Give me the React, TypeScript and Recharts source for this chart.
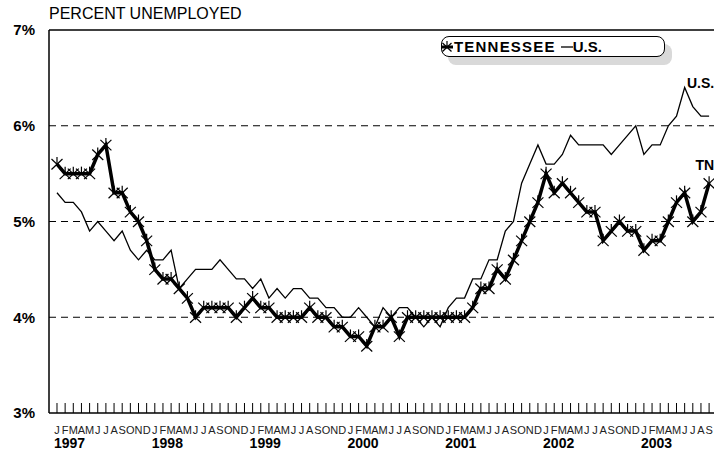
import { Line, LineChart, ReferenceDot, ReferenceLine, XAxis, YAxis } from "recharts"

const FONT = '"Liberation Sans", Arial, Helvetica, sans-serif'

// month letters and years for the axis
const MONTHS = ["J", "F", "M", "A", "M", "J", "J", "A", "S", "O", "N", "D"]
const YEARS = ["1997", "1998", "1999", "2000", "2001", "2002", "2003"]

// Tennessee, Jan 1997 - Sep 2003
const TENNESSEE = [
  5.6, 5.5, 5.5, 5.5, 5.5, 5.7, 5.8, 5.3, 5.3, 5.1, 5.0, 4.8,
  4.5, 4.4, 4.4, 4.3, 4.2, 4.0, 4.1, 4.1, 4.1, 4.1, 4.0, 4.1,
  4.2, 4.1, 4.1, 4.0, 4.0, 4.0, 4.0, 4.1, 4.0, 4.0, 3.9, 3.9,
  3.8, 3.8, 3.7, 3.9, 3.9, 4.0, 3.8, 4.0, 4.0, 4.0, 4.0, 4.0,
  4.0, 4.0, 4.0, 4.1, 4.3, 4.3, 4.5, 4.4, 4.6, 4.8, 5.0, 5.2,
  5.5, 5.3, 5.4, 5.3, 5.2, 5.1, 5.1, 4.8, 4.9, 5.0, 4.9, 4.9,
  4.7, 4.8, 4.8, 5.0, 5.2, 5.3, 5.0, 5.1, 5.4,
]

// U.S.
const US = [
  5.3, 5.2, 5.2, 5.1, 4.9, 5.0, 4.9, 4.8, 4.9, 4.7, 4.6, 4.7,
  4.6, 4.6, 4.7, 4.3, 4.4, 4.5, 4.5, 4.5, 4.6, 4.5, 4.4, 4.4,
  4.3, 4.4, 4.2, 4.3, 4.2, 4.3, 4.3, 4.2, 4.2, 4.1, 4.1, 4.0,
  4.0, 4.1, 4.0, 3.9, 4.1, 4.0, 4.1, 4.1, 4.0, 3.9, 4.0, 3.9,
  4.1, 4.2, 4.2, 4.4, 4.4, 4.6, 4.6, 4.9, 5.0, 5.4, 5.6, 5.8,
  5.6, 5.6, 5.7, 5.9, 5.8, 5.8, 5.8, 5.8, 5.7, 5.8, 5.9, 6.0,
  5.7, 5.8, 5.8, 6.0, 6.1, 6.4, 6.2, 6.1, 6.1,
]

const Y_TICKS = [3, 4, 5, 6, 7]
const GRID = [4, 5, 6]

const data = TENNESSEE.map((tn, i) => ({
  i,
  month: MONTHS[i % 12],
  year: i % 12 === 0 ? YEARS[i / 12] : "",
  tn,
  us: US[i],
}))
const xTicks = data.map((d) => d.i)

const StarDot = (props: any) => {
  const { cx, cy } = props
  if (cx == null || cy == null) return null
  return (
    <g stroke="#000" strokeWidth={1.2} fill="none">
      <line x1={cx} y1={cy - 7} x2={cx} y2={cy} />
      <line x1={cx - 5.5} y1={cy - 5} x2={cx + 5.5} y2={cy + 5.5} />
      <line x1={cx - 5.5} y1={cy + 5.5} x2={cx + 5.5} y2={cy - 5} />
    </g>
  )
}

const MonthTick = (props: any) => {
  const { x, y, payload } = props
  const d = data[payload.value]
  if (!d) return null
  return (
    <g>
      <line x1={x} y1={y - 10} x2={x} y2={y} stroke="#000" strokeWidth={1} />
      <text x={x} y={y + 21} textAnchor="middle" fontSize={11} fill="#222" fontFamily={FONT}>
        {d.month}
      </text>
      {d.year && (
        <text x={x - 3} y={y + 35} textAnchor="start" fontSize={14} fontWeight="bold" fill="#000" fontFamily={FONT}>
          {d.year}
        </text>
      )}
    </g>
  )
}

const endLabel = (text: string) => (p: any) => {
  const { viewBox } = p
  return (
    <text
      x={viewBox.x + viewBox.width}
      y={viewBox.y + viewBox.height / 2}
      textAnchor="end"
      dominantBaseline="central"
      fontSize={14}
      fontWeight="bold"
      fontFamily={FONT}
      fill="#000"
    >
      {text}
    </text>
  )
}

export default function App() {
  return (
    <div style={{ position: "absolute", left: 0, top: 0, width: 714, height: 453, background: "#fff", fontFamily: FONT }}>
      <div style={{ position: "absolute", left: 49, top: 5, fontSize: 16, color: "#000", whiteSpace: "nowrap" }}>
        PERCENT UNEMPLOYED
      </div>
      <LineChart width={714} height={453} data={data} margin={{ top: 30, right: 0, bottom: 0, left: 0 }}>
        <XAxis
          dataKey="i"
          type="number"
          domain={[-0.98, 80.6]}
          ticks={xTicks}
          interval={0}
          allowDataOverflow
          height={40}
          tickSize={0}
          tickMargin={0}
          tickLine={false}
          axisLine={{ stroke: "#000", strokeWidth: 1.5 }}
          tick={<MonthTick />}
        />
        <YAxis
          type="number"
          domain={[3, 7]}
          ticks={Y_TICKS}
          width={49}
          tickSize={0}
          tickMargin={14}
          tickLine={false}
          axisLine={{ stroke: "#000", strokeWidth: 1.5 }}
          tickFormatter={(v) => `${v}%`}
          tick={{ fill: "#000", fontSize: 15, fontWeight: "bold", fontFamily: FONT }}
        />
        {GRID.map((g) => (
          <ReferenceLine key={g} y={g} stroke="#000" strokeWidth={1} strokeDasharray="7 5" />
        ))}
        <ReferenceLine y={7} stroke="#000" strokeWidth={1.5} />
        <Line
          dataKey="us"
          type="linear"
          stroke="#000"
          strokeWidth={1.3}
          dot={false}
          activeDot={false}
          isAnimationActive={false}
        />
        <Line
          dataKey="tn"
          type="linear"
          stroke="#000"
          strokeWidth={3.5}
          dot={<StarDot />}
          activeDot={false}
          isAnimationActive={false}
        />
        <ReferenceDot x={80.5} y={6.45} r={1} fill="none" stroke="none" ifOverflow="visible" label={endLabel("U.S.")} />
        <ReferenceDot x={80.5} y={5.59} r={1} fill="none" stroke="none" ifOverflow="visible" label={endLabel("TN")} />
      </LineChart>
      <div
        style={{
          position: "absolute",
          left: 441,
          top: 36,
          width: 224,
          height: 21,
          boxSizing: "border-box",
          border: "1.5px solid #000",
          borderRadius: 8,
          background: "#fff",
          boxShadow: "7px 8px 0 #d9d9d9",
          display: "flex",
          alignItems: "center",
          fontWeight: "bold",
          fontSize: 15,
          color: "#000",
          whiteSpace: "nowrap",
        }}
      >
        <svg width={12} height={14} style={{ marginLeft: -1 }}>
          <line x1={0} y1={7} x2={12} y2={7} stroke="#000" strokeWidth={3} />
          <line x1={6} y1={1} x2={6} y2={7} stroke="#000" strokeWidth={1.2} />
          <line x1={1.5} y1={3} x2={10.5} y2={11.5} stroke="#000" strokeWidth={1.2} />
          <line x1={1.5} y1={11.5} x2={10.5} y2={3} stroke="#000" strokeWidth={1.2} />
        </svg>
        <span style={{ letterSpacing: 1.2, marginLeft: 1 }}>TENNESSEE</span>
        <svg width={12} height={14} style={{ marginLeft: 5 }}>
          <line x1={0} y1={7} x2={12} y2={7} stroke="#000" strokeWidth={1.3} />
        </svg>
        <span>U.S.</span>
      </div>
    </div>
  )
}
